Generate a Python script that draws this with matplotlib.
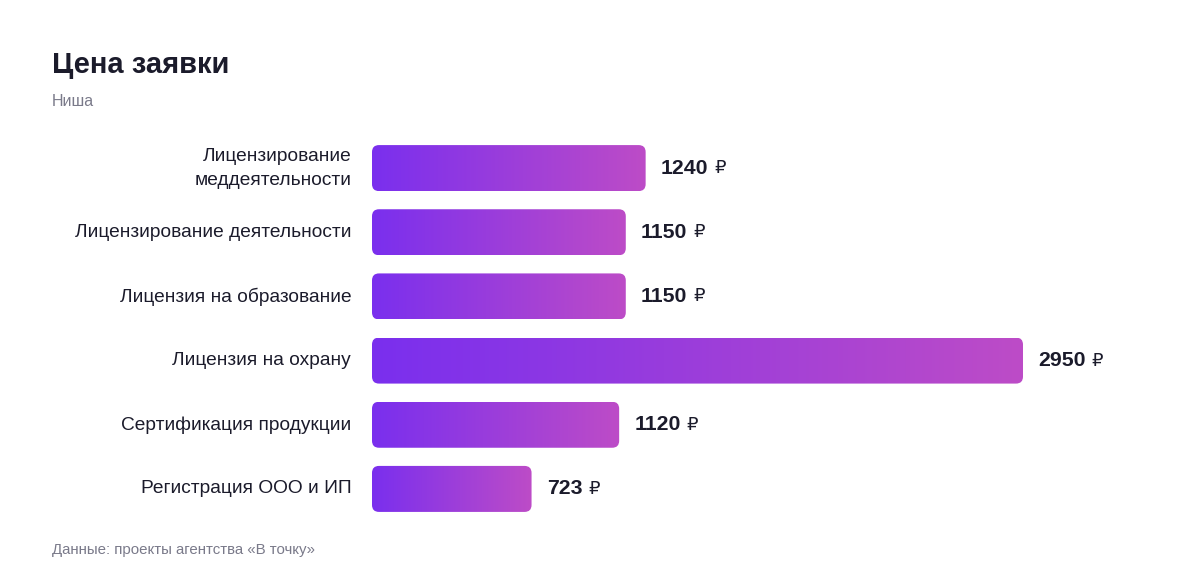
import numpy as np
import matplotlib.pyplot as plt
from matplotlib.patches import FancyBboxPatch
from matplotlib.colors import LinearSegmentedColormap

plt.rcParams['font.family'] = ['Liberation Sans', 'DejaVu Sans']

categories = [
    "Лицензирование\nмеддеятельности",
    "Лицензирование деятельности",
    "Лицензия на образование",
    "Лицензия на охрану",
    "Сертификация продукции",
    "Регистрация ООО и ИП",
]
prices = [1240, 1150, 1150, 2950, 1120, 723]

title = "Цена заявки"
subtitle = "Ниша"
source = "Данные: проекты агентства «В точку»"

W, H = 1200, 584
fig = plt.figure(figsize=(W / 100, H / 100), dpi=100)
fig.patch.set_facecolor('white')

# axes in pixel terms: bars start at x=372, 2950 ends near x=1023
ax_left, ax_right = 372, 1023
ax_top, ax_bot = 136, 521
ax = fig.add_axes([ax_left / W, 1 - ax_bot / H, (ax_right - ax_left) / W, (ax_bot - ax_top) / H])
ax.axis('off')

cmap = LinearSegmentedColormap.from_list('bar', ['#7A2FEE', '#BD4CC7'])
grad = np.linspace(0, 1, 256).reshape(1, -1)

px_x = (ax_right - ax_left) / max(prices)
px_y = (ax_bot - ax_top) / len(prices)
bar_h = 46 / px_y
radius = 7 / px_x

for i, (cat, v) in enumerate(zip(categories, prices)):
    patch = FancyBboxPatch((0, i - bar_h / 2), v, bar_h,
                           boxstyle=f"round,pad=0,rounding_size={radius}",
                           mutation_aspect=px_x / px_y,
                           facecolor='none', edgecolor='none')
    ax.add_patch(patch)
    im = ax.imshow(grad, cmap=cmap, aspect='auto',
                   extent=(0, v, i + bar_h / 2, i - bar_h / 2), interpolation='bilinear')
    im.set_clip_path(patch)

    ax.annotate(cat, xy=(0, i), xytext=(-15, 0), textcoords='offset points',
                ha='right', va='center', multialignment='right',
                fontsize=13.8, color='#1B1B2B', linespacing=1.55)
    t = ax.annotate(f"{v}", xy=(v, i), xytext=(11, 0), textcoords='offset points',
                    ha='left', va='center', fontsize=15.3, fontweight='bold', color='#1B1B2B')
    ax.annotate("₽", xy=(1, 0.5), xycoords=t, xytext=(4, 0), textcoords='offset points',
                ha='left', va='center', fontsize=13, color='#1B1B2B',
                family=['DejaVu Sans'])

ax.set_xlim(0, max(prices))
ax.set_ylim(len(prices) - 0.5, -0.5)

fig.text(52 / W, 1 - 65 / H, title, fontsize=21, fontweight='bold', color='#1B1B2B',
         ha='left', va='center')
fig.text(52 / W, 1 - 102 / H, subtitle, fontsize=11.5, color='#7A7A8A', ha='left', va='center')
fig.text(52 / W, 1 - 550 / H, source, fontsize=10.8, color='#7A7A8A', ha='left', va='center')

fig.savefig('out.png', dpi=100, facecolor='white')
